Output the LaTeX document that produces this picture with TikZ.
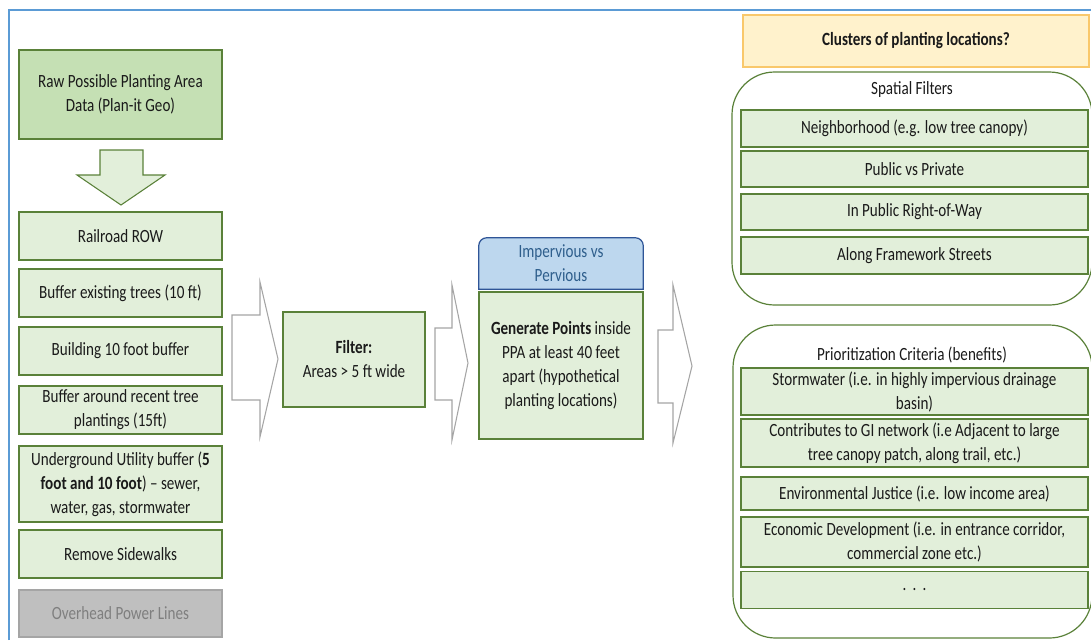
\documentclass[tikz,border=0pt]{standalone}
\usepackage{fontspec}
\setmainfont{Carlito}[FakeStretch=0.81]
\definecolor{boxline}{HTML}{5A8139}
\definecolor{boxfill}{HTML}{E2EFDA}
\definecolor{rawfill}{HTML}{C5E0B4}
\definecolor{greyfill}{HTML}{BFBFBF}
\definecolor{greyline}{HTML}{A5A5A5}
\definecolor{greytext}{HTML}{7F7F7F}
\definecolor{bluefill}{HTML}{BDD7EE}
\definecolor{blueline}{HTML}{2F5597}
\definecolor{bluetext}{HTML}{2E5E8C}
\definecolor{goldfill}{HTML}{FFF2CC}
\definecolor{goldline}{HTML}{F9C86B}
\definecolor{framecol}{HTML}{5B9BD5}
\definecolor{inktext}{HTML}{1A1A1A}
\begin{document}
\begin{tikzpicture}[x=0.75pt, y=-0.75pt,
    font=\fontsize{14}{18}\selectfont,
    size/.style 2 args={minimum width=#1*0.75pt, minimum height=#2*0.75pt},
    stage/.style={draw=boxline, fill=boxfill, line width=0.9pt, inner sep=0pt, align=center, text=inktext},
    panel/.style={draw=boxline, line width=0.9pt, rounded corners=32pt, inner sep=0pt},
    bigarrow/.style={draw=greyline, fill=white, line width=0.8pt, line join=miter}]
   \useasboundingbox (0,0) rectangle (1091,640);
   \draw[framecol, line width=1pt] (9,640) -- (9,10) -- (1091,10);

   \node[stage, fill=rawfill, size={203}{89}] (raw) at (120.5,94.5) {Raw Possible Planting Area\\Data (Plan-it Geo)};
   \draw[draw=boxline, fill=boxfill, line width=0.8pt] (100,150) -- (143,150) -- (143,175) -- (165,175) -- (121,205) -- (77,175) -- (100,175) -- cycle;
   \node[stage, size={203}{48}] (rail) at (120.5,236) {Railroad ROW};
   \node[stage, size={203}{48}] (trees) at (120.5,293) {Buffer existing trees (10 ft)};
   \node[stage, size={203}{48}] (building) at (120.5,351) {Building 10 foot buffer};
   \node[stage, size={203}{48}] (recent) at (120.5,410) {Buffer around recent tree\\plantings (15ft)};
   \node[stage, size={203}{76}] (utility) at (120.5,484) {Underground Utility buffer (\textbf{5}\\\textbf{foot and 10 foot}) -- sewer,\\water, gas, stormwater};
   \node[stage, size={203}{48}] (sidewalk) at (120.5,554) {Remove Sidewalks};
   \node[stage, draw=greyline, fill=greyfill, text=greytext, size={203}{47}] (power) at (120.5,613.5) {Overhead Power Lines};

   \draw[bigarrow] (232,315) -- (260,315) -- (260,282) -- (278,359) -- (260,437) -- (260,400) -- (232,400) -- cycle;
   \node[stage, size={142}{95}] (filter) at (354,359.5) {\textbf{Filter:}\\Areas > 5 ft wide};
   \draw[bigarrow] (435,328) -- (452,328) -- (452,285) -- (468,363) -- (452,440) -- (452,400) -- (435,400) -- cycle;

   \node[inner sep=0pt, size={164}{51}, align=center, text=bluetext] (surface) at (561,263.5) {Impervious vs\\Pervious};
   \draw[draw=blueline, fill=bluefill, line width=0.9pt] (surface.south west) [rounded corners=6pt] -- (surface.north west) -- (surface.north east) [sharp corners] -- (surface.south east) -- cycle;
   \node[inner sep=0pt, align=center, text=bluetext] at (surface) {Impervious vs\\Pervious};
   \node[stage, size={164}{147}] (points) at (561,365.5) {\textbf{Generate Points} inside\\PPA at least 40 feet\\apart (hypothetical\\planting locations)};
   \draw[bigarrow] (658,330) -- (673,330) -- (673,285) -- (692,366) -- (673,443) -- (673,403) -- (658,403) -- cycle;

   \node[stage, draw=goldline, fill=goldfill, size={346}{52}] (clusters) at (916,41) {\textbf{Clusters of planting locations?}};
   \node[panel, size={360}{233}] (spatial) at (912,188.5) {};
   \node[text=inktext] (spatialtitle) at (912,90) {Spatial Filters};
   \node[stage, size={347}{37}] (hood) at (914.5,128.5) {Neighborhood (e.g. low tree canopy)};
   \node[stage, size={347}{36}] (public) at (914.5,169) {Public vs Private};
   \node[stage, size={347}{36}] (row) at (914.5,212) {In Public Right-of-Way};
   \node[stage, size={347}{37}] (streets) at (914.5,255.5) {Along Framework Streets};

   \node[panel, size={359}{313}] (criteria) at (912.5,481.5) {};
   \node[text=inktext] (criteriatitle) at (912,355) {Prioritization Criteria (benefits)};
   \node[stage, size={347}{47}] (storm) at (914.5,391.5) {Stormwater (i.e. in highly impervious drainage\\basin)};
   \node[stage, size={347}{48}] (network) at (914.5,443) {Contributes to GI network (i.e Adjacent to large\\tree canopy patch, along trail, etc.)};
   \node[stage, size={347}{33}] (justice) at (914.5,493.5) {Environmental Justice (i.e. low income area)};
   \node[stage, size={347}{50}] (economy) at (914.5,542) {Economic Development (i.e. in entrance corridor,\\commercial zone etc.)};
   \node[stage, size={347}{37}] (more) at (914.5,590) {.\,\,.\,\,.};
\end{tikzpicture}
\end{document}
